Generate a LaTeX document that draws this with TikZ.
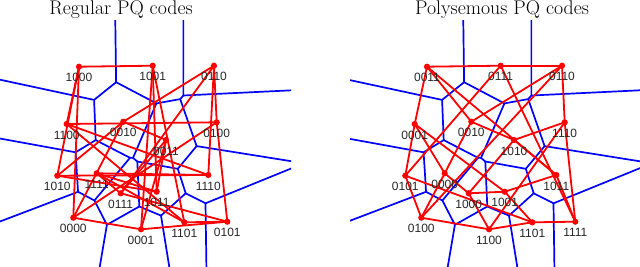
\documentclass[tikz,border=0pt]{standalone}
\usepackage{fontspec}
\newfontfamily\labfont{Liberation Sans}
\pgfdeclarelayer{vorl}
\pgfdeclarelayer{edgel}
\pgfsetlayers{vorl,edgel,main}
\tikzset{
  vor/.style={draw=blue, line width=1.7pt, line join=round},
  hedge/.style={draw=red, line width=1.8pt},
  dot/.style={circle, fill=red, inner sep=0pt, minimum size=6.2pt},
  code/.style={font=\labfont\fontsize{12}{12}\selectfont, text=black!85, inner sep=0pt},
  ttl/.style={font=\fontsize{19.8}{24}\selectfont, anchor=base, inner sep=0pt}
}
\newcommand\vorpaths{%
  \draw[vor] (115.0,0) -- (116.1,82.2) -- (94.1,99.9) -- (-10,77.55);
  \draw[vor] (116.1,82.2) -- (156.4,103.4) -- (180.2,99.1) -- (183.35,95.5) -- (183.35,0);
  \draw[vor] (183.35,95.5) -- (300,89.9);
  \draw[vor] (180.2,99.1) -- (196.6,146.1) -- (300,162.6);
  \draw[vor] (94.1,99.9) -- (95.7,140.1) -- (75.6,152.3) -- (-10,136.7);
  \draw[vor] (75.6,152.3) -- (78.05,191.8) -- (-10,225.3);
  \draw[vor] (78.05,191.8) -- (94.4,200.5) -- (106.9,224.8) -- (97.5,280);
  \draw[vor] (106.9,224.8) -- (139.3,206.5) -- (161,215.6) -- (171.4,280);
  \draw[vor] (161,215.6) -- (185.7,193.3) -- (205.5,203.3) -- (206.6,280);
  \draw[vor] (205.5,203.3) -- (300,164.9);
  \draw[vor] (185.7,193.3) -- (177.8,168.8) -- (196.6,146.1);
  \draw[vor] (177.8,168.8) -- (137.3,161.5) -- (139.3,206.5);
  \draw[vor] (137.3,161.5) -- (133.0,157.9) -- (156.4,103.4);
  \draw[vor] (133.0,157.9) -- (130.0,157.8) -- (95.7,140.1);
  \draw[vor] (130.0,157.8) -- (94.4,200.5);
}
\begin{document}
\begin{tikzpicture}[x=1pt,y=-1pt]
\useasboundingbox (0,0) rectangle (640,266);
% Voronoi cells
\begin{pgfonlayer}{vorl}
\begin{scope}
  \clip (0,20) rectangle (291,266);
  \vorpaths
\end{scope}
\begin{scope}[xshift=348pt]
  \clip (2,20) rectangle (292,266);
  \vorpaths
\end{scope}
\end{pgfonlayer}
% centroids and codes
\foreach \x/\y/\l/\r in {
  79/66.7/1000/0011, 152.7/65.7/1001/0111, 214/65.7/0110/0110,
  66.7/124/1100/0001, 123.3/121.7/0010/0010, 216.7/122.3/0100/1110,
  166/140/0011/1010, 57.3/175.7/1010/0101, 96.7/173.3/1111/0000,
  208.3/175/1110/1011, 120.7/193.3/0111/1000, 156.7/191.7/1011/1001,
  73.3/217.7/0000/0100, 141/229.3/0001/1100, 184.3/222.3/1101/1101,
  227.3/221.7/0101/1111}{
  \node[dot] (L\l) at (\x,\y) {};
  \node[code] (tL\l) at ([yshift=-11pt]L\l.center) {\l};
  \node[dot] (R\r) at (\x+348,\y) {};
  \node[code] (tR\r) at ([yshift=-11pt]R\r.center) {\r};
}
% hypercube edges (Hamming distance 1)
\begin{pgfonlayer}{edgel}
\foreach \a/\b in {
  0000/0001, 0010/0011, 0100/0101, 0110/0111, 1000/1001, 1010/1011, 1100/1101, 1110/1111,
  0000/0010, 0001/0011, 0100/0110, 0101/0111, 1000/1010, 1001/1011, 1100/1110, 1101/1111,
  0000/0100, 0001/0101, 0010/0110, 0011/0111, 1000/1100, 1001/1101, 1010/1110, 1011/1111,
  0000/1000, 0001/1001, 0010/1010, 0011/1011, 0100/1100, 0101/1101, 0110/1110, 0111/1111}{
  \draw[hedge] (L\a.center) -- (L\b.center);
  \draw[hedge] (R\a.center) -- (R\b.center);
}
\end{pgfonlayer}
% titles
\node[ttl] (t1) at (121,14.8) {Regular PQ codes};
\node[ttl] (t2) at (502,14.8) {Polysemous PQ codes};
\end{tikzpicture}
\end{document}
